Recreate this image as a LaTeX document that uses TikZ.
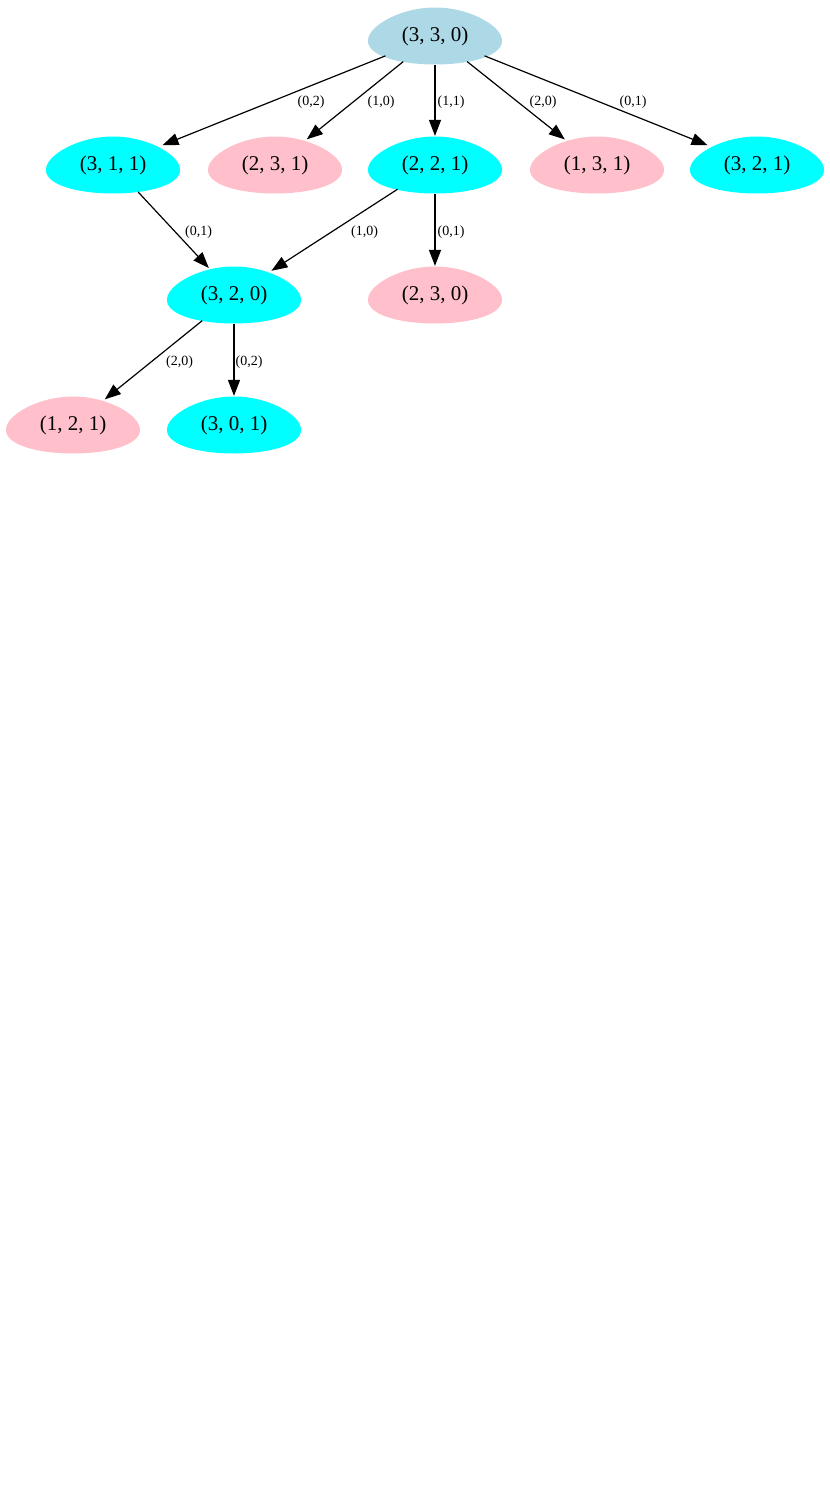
\documentclass[tikz,border=0pt]{standalone}
\usepackage{fontspec}
\setmainfont{Liberation Serif}
\usetikzlibrary{arrows.meta,backgrounds,shapes.geometric}

\definecolor{rootblue}{HTML}{ADD8E6}
\definecolor{safecyan}{HTML}{00FFFF}
\definecolor{deadpink}{HTML}{FFC0CB}

\tikzset{
  state/.style={ellipse, minimum width=134pt, minimum height=57pt, inner sep=0pt,
    font=\fontsize{21}{24}\selectfont},
  edge label/.style={font=\fontsize{14}{16}\selectfont, inner sep=0pt}
}

\begin{document}
\begin{tikzpicture}[x=1pt, y=-1pt, >={Triangle[length=16pt,width=12pt]}, line width=1.2pt]
\useasboundingbox (0,0) rectangle (830,1500);

% Draw state nodes
\foreach \n/\x/\y/\t in {n330/435/36/{(3, 3, 0)},
  n311/113/165/{(3, 1, 1)}, n231/275/165/{(2, 3, 1)}, n221/435/165/{(2, 2, 1)},
  n131/597/165/{(1, 3, 1)}, n321/757/165/{(3, 2, 1)},
  n320/234/295/{(3, 2, 0)}, n230/435/295/{(2, 3, 0)},
  n121/73/425/{(1, 2, 1)}, n301/234/425/{(3, 0, 1)}}
  \node [state] (\n) at (\x,\y) {\t};

% Fill the egg shapes behind the nodes
\begin{scope}[on background layer]
\foreach \n/\c in {n330/rootblue, n311/safecyan, n231/deadpink, n221/safecyan,
  n131/deadpink, n321/safecyan, n320/safecyan, n230/deadpink,
  n121/deadpink, n301/safecyan}
  \fill [\c, shift={(\n.center)}]
    plot [domain=0:360, samples=90] ({66*cos(\x)*(1+0.18*sin(\x))}, {28.5*sin(\x)}) -- cycle;
\end{scope}

% Connect the states
\foreach \a/\b/\l/\s in {n330/n311/{(0,2)}/37, n330/n231/{(1,0)}/26,
  n330/n221/{(1,1)}/16, n330/n131/{(2,0)}/27, n330/n321/{(0,1)}/37,
  n311/n320/{(0,1)}/25, n221/n320/{(1,0)}/30, n221/n230/{(0,1)}/16,
  n320/n121/{(2,0)}/26, n320/n301/{(0,2)}/15}
  \draw [->] (\a) -- node [edge label, xshift=\s pt, yshift=-2pt] {\l} (\b);
\end{tikzpicture}
\end{document}
